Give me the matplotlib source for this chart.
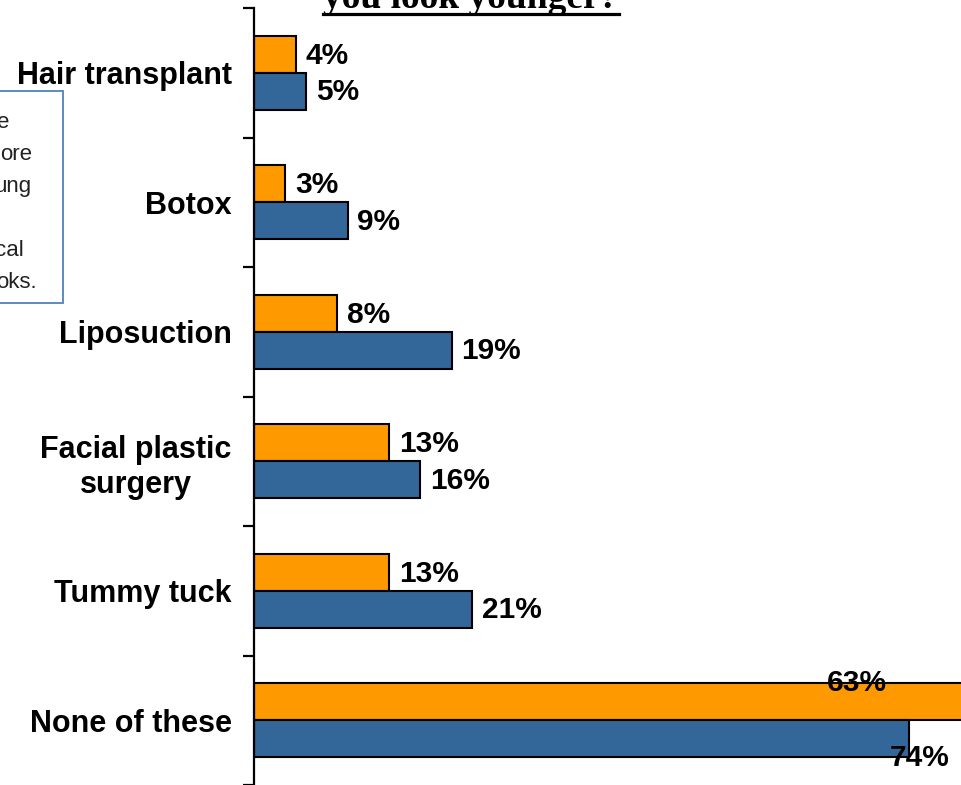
import matplotlib
matplotlib.use('Agg')
import matplotlib.pyplot as plt
from matplotlib.lines import Line2D
from matplotlib.patches import Rectangle
import numpy as np

# Data
categories = ['Hair transplant', 'Botox', 'Liposuction', 'Facial plastic\nsurgery',
              'Tummy tuck', 'None of these']
orange_vals = [4, 3, 8, 13, 13, 74]      # drawn bar lengths
blue_vals = [5, 9, 19, 16, 21, 63]
orange_labels = ['4%', '3%', '8%', '13%', '13%', '63%']
blue_labels = ['5%', '9%', '19%', '16%', '21%', '74%']
box_lines = ['e', 'ore', 'ung', 'cal', 'oks.']

W, H = 961, 785
fig = plt.figure(figsize=(W / 100, H / 100), dpi=100)
ax = fig.add_axes([254 / W, 0, 1 - 254 / W, 777 / H])

y = np.arange(len(categories))
h = 0.285
ax.barh(y - h / 2, orange_vals, height=h, color='#FF9900', edgecolor='black', linewidth=1.5)
ax.barh(y + h / 2, blue_vals, height=h, color='#336699', edgecolor='black', linewidth=1.5)

ax.set_xlim(0, 68)
ax.set_ylim(len(categories) - 0.5, -0.5)

lab = dict(fontsize=21.5, fontweight='bold', family='Liberation Sans', va='center')
for i in range(len(categories) - 1):
    ax.text(orange_vals[i] + 0.95, y[i] - h / 2 + 0.01, orange_labels[i], ha='left', **lab)
    ax.text(blue_vals[i] + 0.95, y[i] + h / 2 + 0.01, blue_labels[i], ha='left', **lab)
# last group labels sit off the bar ends in the original
ax.text(58, 4.71, orange_labels[-1], ha='center', **lab)
ax.text(64, 5.29, blue_labels[-1], ha='center', **lab)

for s in ['top', 'right', 'bottom']:
    ax.spines[s].set_visible(False)
ax.spines['left'].set_linewidth(1.6)
ax.set_xticks([])
ax.set_yticks(y)
ax.set_yticklabels(categories, fontsize=22, fontweight='bold', family='Liberation Sans',
                   multialignment='center', linespacing=1.25)
ax.tick_params(axis='y', which='major', length=0, pad=16)
ax.set_yticks(np.arange(-0.5, len(categories) + 0.5, 1), minor=True)
ax.tick_params(axis='y', which='minor', length=8, width=1.6, direction='out')

# title, mostly cut off at the top
t = fig.text(471 / W, 1 - 8 / H, 'you look younger?', ha='center', va='baseline',
             fontsize=27, fontweight='bold', family='Liberation Serif')
fig.canvas.draw()
bb = t.get_window_extent()
fig.add_artist(Line2D([bb.x0 / W, bb.x1 / W], [1 - 13.5 / H, 1 - 13.5 / H],
                      color='black', linewidth=2.3, transform=fig.transFigure))

# text box partially visible on the left
fig.add_artist(Rectangle((-5 / W, 1 - 303 / H), 68 / W, 212 / H, transform=fig.transFigure,
                         facecolor='white', edgecolor='#4F81BD', linewidth=1.3))
box_right = [9, 32, 32, 24, 37]
box_base = [128, 160, 192, 256, 288]
for txt, xr, yb in zip(box_lines, box_right, box_base):
    fig.text(xr / W, 1 - yb / H, txt, ha='right', va='baseline', fontsize=16,
             family='Liberation Sans', color='#222222')

fig.savefig('out.png', dpi=100)
